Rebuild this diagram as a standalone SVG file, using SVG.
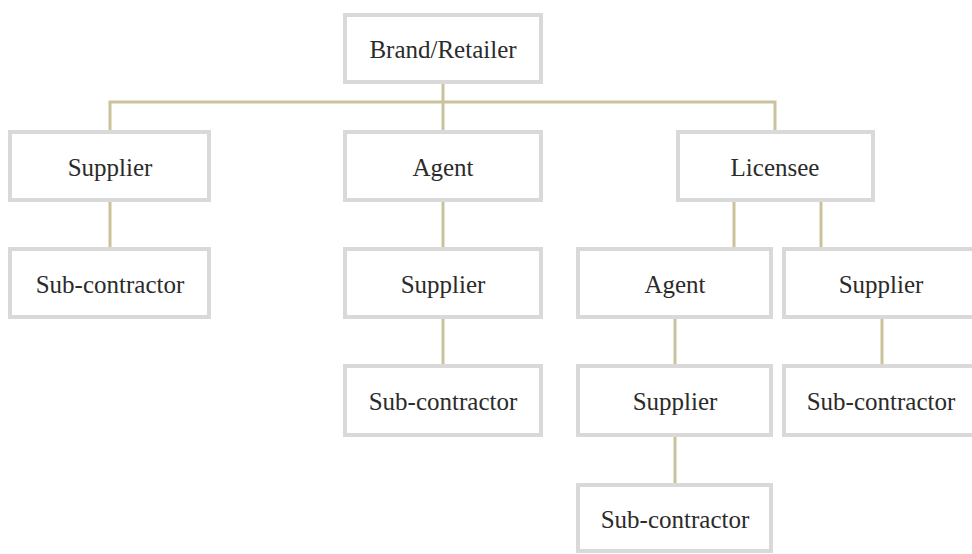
<svg xmlns="http://www.w3.org/2000/svg" width="972" height="554" viewBox="0 0 972 554">
  <style>
    .box { fill: #ffffff; stroke: #d9d9d9; stroke-width: 4; }
    .label { font-family: "Liberation Serif", "Times New Roman", serif; font-size: 25px; fill: #2b2b2b; text-anchor: middle; }
    .link { fill: none; stroke: #c9c29c; stroke-width: 3; }
  </style>
  <rect width="972" height="554" fill="#ffffff"/>

  <!-- tree connectors -->
  <g id="connectors" class="link">
    <path d="M443 84 V130"/>
    <path d="M110 130 V102 H775 V130"/>
    <path d="M110 202 V247"/>
    <path d="M443 202 V247"/>
    <path d="M443 319 V364"/>
    <path d="M734 202 V247"/>
    <path d="M821 202 V247"/>
    <path d="M675 319 V364"/>
    <path d="M675 437 V483"/>
    <path d="M882 319 V364"/>
  </g>

  <!-- top -->
  <g id="brand-retailer">
    <rect class="box" x="345" y="15" width="196" height="67"/>
    <text class="label" x="443" y="58">Brand/Retailer</text>
  </g>

  <!-- left branch -->
  <g id="supplier-1">
    <rect class="box" x="10" y="132" width="199" height="68"/>
    <text class="label" x="110" y="175.5">Supplier</text>
  </g>
  <g id="subcontractor-1">
    <rect class="box" x="10" y="249" width="199" height="68"/>
    <text class="label" x="110" y="292.5">Sub-contractor</text>
  </g>

  <!-- middle branch -->
  <g id="agent-1">
    <rect class="box" x="345" y="132" width="196" height="68"/>
    <text class="label" x="443" y="175.5">Agent</text>
  </g>
  <g id="supplier-2">
    <rect class="box" x="345" y="249" width="196" height="68"/>
    <text class="label" x="443" y="292.5">Supplier</text>
  </g>
  <g id="subcontractor-2">
    <rect class="box" x="345" y="366" width="196" height="69"/>
    <text class="label" x="443" y="410">Sub-contractor</text>
  </g>

  <!-- licensee branch -->
  <g id="licensee">
    <rect class="box" x="678" y="132" width="195" height="68"/>
    <text class="label" x="775" y="175.5">Licensee</text>
  </g>
  <g id="agent-2">
    <rect class="box" x="578" y="249" width="193" height="68"/>
    <text class="label" x="675" y="292.5">Agent</text>
  </g>
  <g id="supplier-3">
    <rect class="box" x="578" y="366" width="193" height="69"/>
    <text class="label" x="675" y="410">Supplier</text>
  </g>
  <g id="subcontractor-3">
    <rect class="box" x="578" y="485" width="193" height="66"/>
    <text class="label" x="675" y="528">Sub-contractor</text>
  </g>
  <g id="supplier-4">
    <rect class="box" x="784" y="249" width="200" height="68"/>
    <text class="label" x="881" y="292.5">Supplier</text>
  </g>
  <g id="subcontractor-4">
    <rect class="box" x="784" y="366" width="200" height="69"/>
    <text class="label" x="881" y="410">Sub-contractor</text>
  </g>
</svg>
